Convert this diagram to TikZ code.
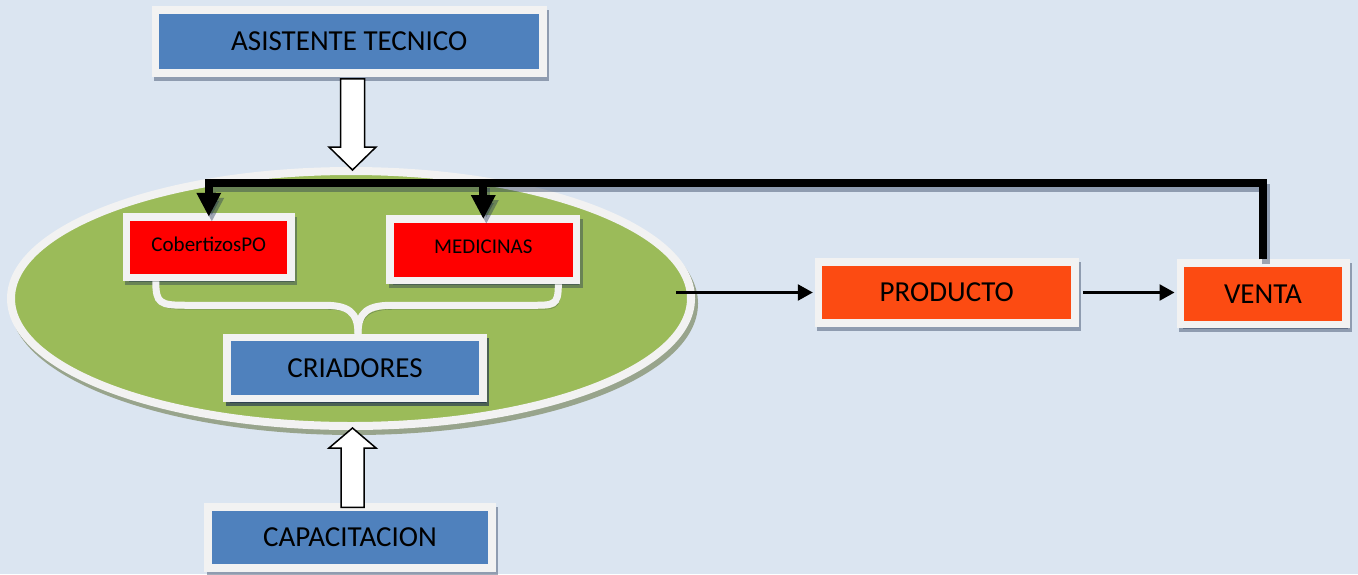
\documentclass[tikz,border=0pt]{standalone}
\usepackage{fontspec}
\setmainfont{Carlito}
\usetikzlibrary{arrows.meta,calc,shapes.geometric}

\definecolor{bgcol}{HTML}{DBE5F1}
\definecolor{framecol}{HTML}{F2F2F2}
\definecolor{bluebox}{HTML}{4F81BD}
\definecolor{redbox}{HTML}{FF0000}
\definecolor{orangebox}{HTML}{FC4B12}
\definecolor{grass}{HTML}{9BBB59}
\definecolor{shadowcol}{HTML}{1F3050}
\definecolor{ellshadow}{HTML}{98A48C}

\tikzset{
  framed/.style={rectangle, draw=framecol, line width=7.5pt, inner sep=0pt,
    font=\fontsize{29}{34}\selectfont,
    preaction={draw=shadowcol, fill=shadowcol, opacity=0.4,
      transform canvas={shift={(2.5pt,-4pt)}}}},
  smalltext/.style={font=\fontsize{21}{25}\selectfont, text depth=7pt},
  feed/.style={line width=8pt, line join=miter, draw=black,
    -{Triangle[width=23pt,length=24pt]}},
  feedshadow/.style={feed, draw=shadowcol, opacity=0.4},
  flow/.style={line width=2.5pt, -{Triangle[length=15pt,width=16pt]}},
  blockarrow/.style={draw=black, fill=white, line width=1.5pt, line join=miter},
  bracket/.style={draw=framecol, line width=7pt,
    preaction={draw=shadowcol, opacity=0.4,
      transform canvas={shift={(2pt,-4pt)}}}},
}

\begin{document}
\begin{tikzpicture}[x=1pt, y=-1pt]
  % page and background
  \useasboundingbox (0,0) rectangle (1358,574);
  \fill[bgcol] (0,0) rectangle (1358,574);

  % the herd ellipse with its white rim
  \node[ellipse, fill=grass, draw=framecol, line width=8pt, inner sep=0pt,
        minimum width=680pt, minimum height=255pt,
        preaction={draw=ellshadow, fill=ellshadow,
          transform canvas={shift={(3pt,-5pt)}}}]
        (herd) at (351,298.5) {};

  % boxes inside the ellipse
  \node[framed, fill=redbox, smalltext, minimum width=164.5pt, minimum height=60.5pt]
        (cob) at (208.8,247.3) {CobertizosPO};
  \node[framed, fill=redbox, smalltext, minimum width=186.5pt, minimum height=61.5pt]
        (med) at (483.3,249.8) {MEDICINAS};
  \node[framed, fill=bluebox, minimum width=256pt, minimum height=61pt]
        (crd) at (355,368) {CRIADORES};

  % curly bracket joining the two supplies to the breeders
  \coordinate (bl) at ($(cob.south)+(-53,0)$);
  \coordinate (br) at ($(med.south)+(75,0)$);
  \coordinate (bc) at ($(crd.north)+(3,0)$);
  \coordinate (bm) at ($(bc)+(0,-28.5)$);
  \draw[bracket] (bl) .. controls ($(bl)+(0,22)$) and ($(bl|-bm)+(4,0)$) .. ($(bl|-bm)+(30,0)$)
      -- ($(bm)+(-34,0)$) .. controls ($(bm)+(-10,0)$) and ($(bc)+(0,-22)$) .. (bc);
  \draw[bracket] (br) .. controls ($(br)+(0,22)$) and ($(br|-bm)+(-4,0)$) .. ($(br|-bm)+(-30,0)$)
      -- ($(bm)+(34,0)$) .. controls ($(bm)+(10,0)$) and ($(bc)+(0,-22)$) .. (bc);
  % redraw the breeders box over the bracket tip
  \node[framed, fill=bluebox, minimum width=256pt, minimum height=61pt]
        at (crd) {CRIADORES};

  % outer boxes
  \node[framed, fill=bluebox, minimum width=387.5pt, minimum height=63pt]
        (asis) at (349.3,41.5) {ASISTENTE TECNICO};
  \node[framed, fill=bluebox, minimum width=284pt, minimum height=61pt]
        (capa) at (350,537.5) {CAPACITACION};
  \node[framed, fill=orangebox, minimum width=256.5pt, minimum height=61pt]
        (prod) at (946.8,292.5) {PRODUCTO};
  \node[framed, fill=orangebox, minimum width=165.5pt, minimum height=61.5pt]
        (venta) at (1263,293.8) {VENTA};

  % feedback from sales back to the supplies: soft shadow first, then the line
  \coordinate (rail) at (0,183);
  \begin{scope}[transform canvas={shift={(3pt,-5pt)}}]
    \draw[feedshadow] (venta.north) -- (venta.north |- rail) -- (cob.north |- rail)
        -- ($(cob.north)+(0,3.5)$);
    \draw[feedshadow] (med.north |- rail) -- ($(med.north)+(0,3.75)$);
  \end{scope}
  \draw[feed] (venta.north) -- (venta.north |- rail) -- (cob.north |- rail)
      -- ($(cob.north)+(0,3.5)$);
  \draw[feed] (med.north |- rail) -- ($(med.north)+(0,3.75)$);

  % block arrows into the ellipse
  \draw[blockarrow] let \p1=($(asis.south)+(0,2)$), \p2=($(herd.north)+(1.5,3)$) in
    (\x2-12pt,\y1) -- (\x2+12pt,\y1) -- (\x2+12pt,\y2+23pt) -- (\x2+23.5pt,\y2+23pt)
    -- (\x2,\y2) -- (\x2-23.5pt,\y2+23pt) -- (\x2-12pt,\y2+23pt) -- cycle;
  \draw[blockarrow] let \p1=($(capa.north)+(0,4)$), \p2=($(herd.south)+(1.5,-2)$) in
    (\x2-11.5pt,\y1) -- (\x2+11.5pt,\y1) -- (\x2+11.5pt,\y2-20pt) -- (\x2+23.5pt,\y2-20pt)
    -- (\x2,\y2) -- (\x2-23.5pt,\y2-20pt) -- (\x2-11.5pt,\y2-20pt) -- cycle;

  % production flow
  \draw[flow] ($(herd.east |- prod.west)+(-19,0)$) -- ($(prod.west)+(-2,0)$);
  \draw[flow] ($(prod.east)+(4,0)$) -- ($(venta.west |- prod.east)+(-2,0)$);
\end{tikzpicture}
\end{document}
